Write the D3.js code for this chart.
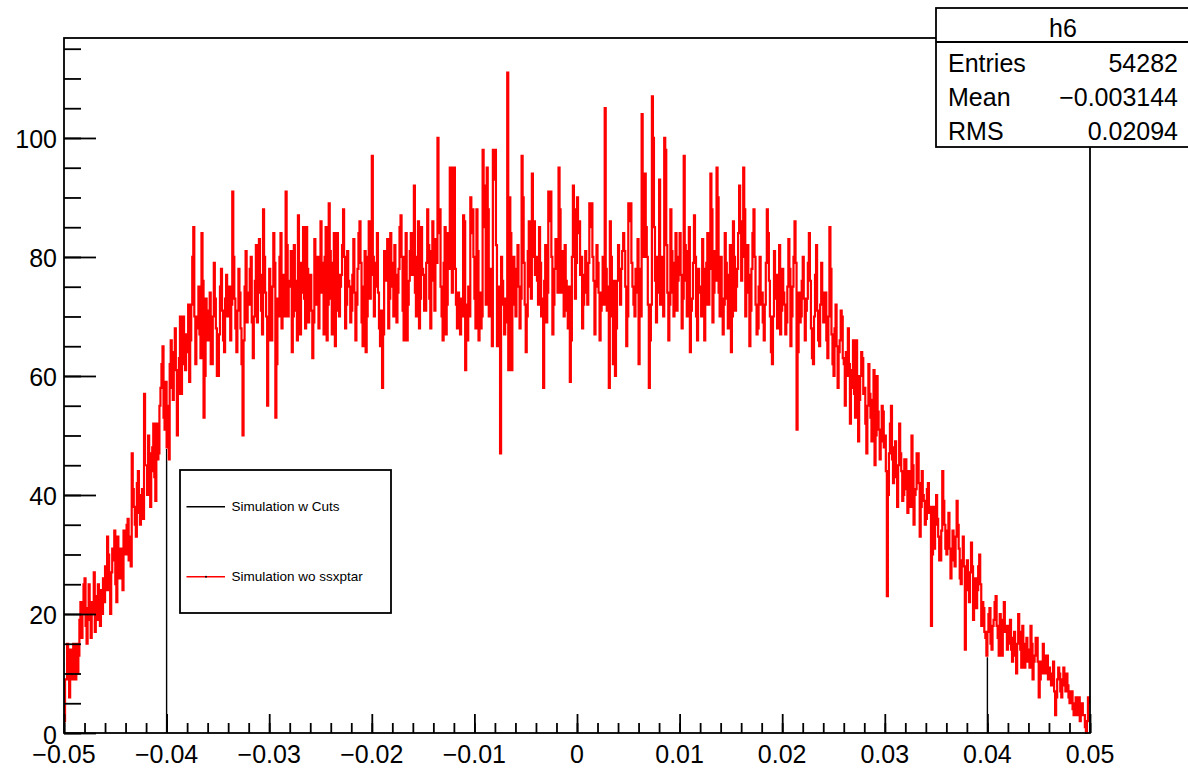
<!DOCTYPE html>
<html>
<head>
<meta charset="utf-8">
<script src="https://cdn.jsdelivr.net/npm/d3@7"></script>
<style>
  html, body { margin: 0; padding: 0; background: #fff; }
  svg { display: block; font-family: "Liberation Sans", Arial, Helvetica, sans-serif; }
</style>
</head>
<body>
<svg id="chart" width="1188" height="768"></svg>
<script>
// Histogram axis definition
const xRange = [-0.05, 0.05];
const yRange = [0, 116.8];
const cutRange = [-0.04, 0.04];

const xTickValues = [-0.05, -0.04, -0.03, -0.02, -0.01, 0, 0.01, 0.02, 0.03, 0.04, 0.05];
const xTickLabels = ["\u22120.05", "\u22120.04", "\u22120.03", "\u22120.02", "\u22120.01", "0", "0.01", "0.02", "0.03", "0.04", "0.05"];
const yTickValues = [0, 20, 40, 60, 80, 100];
const yTickLabels = ["0", "20", "40", "60", "80", "100"];

// Bin contents, "Simulation wo ssxptar" (1000 bins, 20 per line = 0.002 each)
const counts = [
  2, 9, 9, 15, 13, 6, 14, 11, 9, 15, 12, 9, 15, 10, 13, 19, 22, 16, 20, 25,
  26, 18, 15, 21, 25, 19, 16, 22, 20, 27, 17, 23, 19, 25, 21, 18, 24, 20, 26, 22,
  28, 24, 33, 30, 24, 20, 27, 31, 29, 34, 25, 22, 33, 28, 26, 31, 29, 24, 34, 30,
  30, 35, 36, 29, 33, 28, 47, 41, 38, 35, 33, 42, 44, 37, 35, 40, 41, 36, 57, 45,
  45, 40, 50, 47, 38, 44, 48, 52, 43, 39, 52, 46, 47, 55, 58, 62, 65, 53, 51, 59,
  48, 55, 46, 62, 66, 58, 56, 64, 68, 61, 50, 57, 63, 70, 57, 62, 70, 65, 61, 67,
  64, 72, 59, 66, 72, 80, 85, 70, 62, 68, 70, 75, 67, 63, 84, 76, 53, 60, 73, 68,
  66, 71, 74, 62, 62, 70, 79, 73, 68, 60, 60, 67, 75, 78, 71, 66, 64, 73, 77, 70,
  70, 75, 66, 72, 91, 80, 73, 68, 64, 71, 78, 74, 68, 62, 50, 66, 75, 81, 69, 74,
  72, 78, 80, 69, 63, 70, 76, 82, 69, 74, 83, 77, 71, 67, 88, 80, 74, 70, 55, 66,
  78, 72, 66, 75, 84, 79, 53, 62, 73, 70, 80, 84, 68, 75, 77, 70, 91, 82, 70, 76,
  75, 81, 64, 70, 82, 76, 71, 66, 87, 79, 67, 74, 79, 85, 73, 68, 85, 78, 69, 74,
  77, 71, 63, 69, 83, 78, 72, 80, 68, 74, 86, 79, 74, 67, 80, 85, 66, 72, 89, 81,
  73, 67, 79, 84, 65, 71, 84, 77, 70, 75, 77, 82, 88, 80, 68, 72, 81, 76, 75, 69,
  71, 77, 83, 74, 66, 72, 78, 84, 86, 79, 69, 65, 75, 81, 64, 70, 80, 86, 73, 77,
  97, 80, 70, 75, 79, 84, 74, 68, 65, 71, 58, 67, 81, 77, 76, 83, 68, 73, 84, 79,
  75, 70, 82, 77, 69, 74, 78, 85, 87, 80, 71, 66, 80, 84, 66, 72, 76, 81, 84, 77,
  78, 92, 74, 70, 80, 86, 68, 73, 85, 78, 77, 71, 71, 79, 88, 82, 73, 68, 81, 86,
  76, 71, 83, 79, 100, 84, 88, 75, 70, 66, 79, 85, 67, 72, 84, 78, 95, 80, 74, 95,
  95, 78, 72, 68, 74, 70, 67, 73, 70, 87, 86, 61, 72, 66, 75, 70, 90, 84, 88, 80,
  73, 68, 88, 81, 66, 74, 68, 70, 98, 92, 85, 72, 95, 88, 70, 74, 78, 65, 98, 93,
  98, 82, 65, 75, 70, 47, 80, 76, 72, 67, 73, 69, 111, 61, 90, 84, 61, 76, 80, 72,
  70, 78, 82, 75, 68, 73, 97, 90, 79, 72, 64, 70, 81, 86, 75, 73, 94, 80, 86, 77,
  80, 76, 72, 85, 79, 70, 73, 58, 76, 82, 69, 74, 91, 86, 91, 80, 67, 72, 78, 83,
  80, 74, 95, 88, 74, 81, 76, 70, 82, 76, 71, 68, 75, 59, 66, 80, 92, 88, 73, 79,
  90, 84, 86, 77, 80, 68, 72, 77, 81, 74, 72, 79, 89, 85, 89, 80, 76, 67, 75, 82,
  79, 74, 66, 71, 74, 80, 72, 105, 78, 71, 75, 58, 86, 80, 70, 62, 76, 60, 68, 76,
  82, 76, 72, 78, 81, 84, 81, 75, 65, 70, 89, 86, 89, 79, 75, 72, 70, 78, 74, 83,
  62, 78, 70, 104, 88, 80, 94, 85, 80, 72, 58, 66, 72, 107, 100, 85, 76, 69, 80, 74,
  93, 72, 77, 80, 70, 100, 98, 82, 74, 66, 72, 88, 81, 74, 70, 79, 84, 71, 76, 80,
  84, 77, 68, 73, 97, 82, 76, 70, 81, 85, 64, 71, 73, 79, 87, 80, 70, 66, 78, 74,
  75, 70, 83, 78, 66, 72, 79, 84, 72, 78, 94, 88, 69, 74, 81, 76, 95, 90, 74, 70,
  80, 73, 67, 72, 84, 79, 73, 68, 77, 82, 64, 70, 86, 80, 71, 75, 78, 84, 92, 86,
  76, 80, 95, 88, 70, 74, 82, 77, 65, 71, 78, 84, 88, 80, 72, 67, 68, 75, 80, 72,
  74, 69, 66, 72, 79, 88, 84, 76, 70, 64, 62, 70, 81, 77, 73, 68, 77, 82, 67, 71,
  78, 74, 72, 67, 69, 75, 83, 78, 65, 70, 75, 80, 86, 79, 51, 64, 74, 69, 70, 76,
  80, 73, 66, 71, 73, 79, 84, 76, 68, 63, 62, 70, 77, 82, 71, 66, 65, 72, 79, 74,
  69, 73, 74, 66, 63, 70, 85, 78, 67, 62, 60, 68, 72, 65, 58, 64, 66, 71, 70, 63,
  62, 55, 64, 60, 68, 62, 52, 58, 61, 66, 57, 53, 66, 60, 49, 56, 60, 64, 63, 57,
  58, 52, 47, 55, 62, 57, 53, 49, 56, 61, 45, 50, 60, 54, 51, 46, 49, 55, 54, 48,
  50, 44, 23, 40, 47, 52, 55, 46, 42, 48, 49, 43, 38, 45, 52, 47, 44, 39, 40, 46,
  46, 41, 37, 44, 43, 38, 50, 45, 35, 40, 41, 47, 47, 42, 33, 38, 44, 40, 39, 35,
  36, 41, 42, 37, 38, 18, 30, 38, 31, 35, 40, 36, 33, 29, 29, 34, 44, 39, 35, 31,
  30, 34, 37, 31, 26, 30, 34, 29, 28, 33, 39, 35, 31, 26, 25, 29, 33, 28, 14, 24,
  29, 25, 22, 27, 32, 28, 19, 23, 26, 21, 24, 28, 30, 25, 18, 22, 21, 17, 16, 13,
  17, 20, 21, 15, 14, 18, 19, 22, 23, 18, 16, 13, 20, 17, 13, 19, 22, 17, 18, 14,
  15, 18, 19, 14, 12, 16, 17, 13, 10, 15, 20, 17, 14, 11, 18, 15, 11, 14, 16, 12,
  14, 11, 18, 15, 9, 12, 13, 16, 16, 12, 6, 9, 12, 10, 15, 12, 10, 13, 13, 9,
  11, 9, 8, 10, 12, 7, 3, 6, 9, 11, 10, 7, 6, 9, 11, 8, 7, 10, 8, 6,
  5, 7, 7, 4, 3, 5, 6, 3, 4, 6, 2, 4, 5, 3, 3, 1, 0, 2, 6, 5
];

const statsTitle = "h6";
const statsNames = ["Entries", "Mean", "RMS"];
const statsValues = ["54282", "\u22120.003144", "0.02094"];

const legendLabels = ["Simulation w Cuts", "Simulation wo ssxptar"];
const seriesColors = ["#000000", "#ff0000"];

// ---------------------------------------------------------------
const svg = d3.select("#chart");
const frame = { left: 64, right: 1090, top: 38, bottom: 733 };

const x = d3.scaleLinear().domain(xRange).range([frame.left, frame.right]);
const y = d3.scaleLinear().domain(yRange).range([frame.bottom, frame.top]);

const nBins = counts.length;
const binWidth = (xRange[1] - xRange[0]) / nBins;
const edge = i => xRange[0] + i * binWidth;

// step outline of a histogram over bins [i0, i1)
function stepPoints(i0, i1, closeToZero) {
  const pts = [];
  if (closeToZero) pts.push([edge(i0), 0]);
  for (let i = i0; i < i1; i++) {
    pts.push([edge(i), counts[i]]);
    pts.push([edge(i + 1), counts[i]]);
  }
  if (closeToZero) pts.push([edge(i1), 0]);
  return pts;
}
const line = d3.line().x(d => x(d[0])).y(d => y(d[1]));
const fullPath = line(stepPoints(0, nBins, false));

// Histogram with cuts: the bins inside the cut window
const iCutLo = Math.round((cutRange[0] - xRange[0]) / binWidth);
const iCutHi = Math.round((cutRange[1] - xRange[0]) / binWidth);
svg.append("path")
  .attr("d", line(stepPoints(iCutLo, iCutHi, true)))
  .attr("fill", "none").attr("stroke", seriesColors[0]).attr("stroke-width", 1.4);

// Full histogram, drawn over the cut one
svg.append("path").attr("d", fullPath)
  .attr("fill", "none").attr("stroke", "#fff").attr("stroke-width", 3);
svg.append("path").attr("d", fullPath)
  .attr("fill", "none").attr("stroke", seriesColors[1]).attr("stroke-width", 2.2);

// Frame
svg.append("rect")
  .attr("x", frame.left).attr("y", frame.top)
  .attr("width", frame.right - frame.left).attr("height", frame.bottom - frame.top)
  .attr("fill", "none").attr("stroke", "#000").attr("stroke-width", 1.8);

// Axis ticks (drawn inward)
const xMinor = d3.range(0, 51).map(i => xRange[0] + i * 0.002);
const yMinor = d3.range(0, 24).map(i => i * 5);

function styleTicks(g) {
  g.select(".domain").remove();
  g.selectAll(".tick line").attr("stroke", "#000").attr("stroke-width", 1.8);
  g.selectAll(".tick text").remove();
}
svg.append("g").attr("transform", `translate(0,${frame.bottom})`)
  .call(d3.axisBottom(x).tickValues(xMinor).tickSizeInner(-10).tickSizeOuter(0).tickFormat(""))
  .call(styleTicks);
svg.append("g").attr("transform", `translate(0,${frame.bottom})`)
  .call(d3.axisBottom(x).tickValues(xTickValues).tickSizeInner(-19).tickSizeOuter(0).tickFormat(""))
  .call(styleTicks);
svg.append("g").attr("transform", `translate(${frame.left},0)`)
  .call(d3.axisLeft(y).tickValues(yMinor).tickSizeInner(-17).tickSizeOuter(0).tickFormat(""))
  .call(styleTicks);
svg.append("g").attr("transform", `translate(${frame.left},0)`)
  .call(d3.axisLeft(y).tickValues(yTickValues).tickSizeInner(-32).tickSizeOuter(0).tickFormat(""))
  .call(styleTicks);

// Tick labels
svg.append("g").selectAll("text").data(xTickValues).join("text")
  .attr("x", d => x(d)).attr("y", 763)
  .attr("text-anchor", "middle").attr("font-size", 25).attr("fill", "#000")
  .text((d, i) => xTickLabels[i]);
svg.append("g").selectAll("text").data(yTickValues).join("text")
  .attr("x", 57).attr("y", d => y(d) + 10.5)
  .attr("text-anchor", "end").attr("font-size", 25).attr("fill", "#000")
  .text((d, i) => yTickLabels[i]);

// Legend
const leg = svg.append("g");
leg.append("rect").attr("x", 180).attr("y", 470).attr("width", 211).attr("height", 143)
  .attr("fill", "#fff").attr("stroke", "#000").attr("stroke-width", 1.8);
const legRows = [506.7, 576.7];
legendLabels.forEach((lab, i) => {
  leg.append("line").attr("x1", 186.5).attr("x2", 225).attr("y1", legRows[i]).attr("y2", legRows[i])
    .attr("stroke", seriesColors[i]).attr("stroke-width", 1.6);
  leg.append("text").attr("x", 231.5).attr("y", legRows[i] + 4.3)
    .attr("font-size", 13.5).attr("fill", "#000").text(lab);
});
leg.append("circle").attr("cx", 206).attr("cy", legRows[1]).attr("r", 1).attr("fill", "#000");

// Statistics box
const st = svg.append("g");
st.append("rect").attr("x", 936).attr("y", 8).attr("width", 262).attr("height", 139)
  .attr("fill", "#fff").attr("stroke", "#000").attr("stroke-width", 1.8);
st.append("line").attr("x1", 936).attr("x2", 1198).attr("y1", 42).attr("y2", 42)
  .attr("stroke", "#000").attr("stroke-width", 1.8);
st.append("text").attr("x", 1063).attr("y", 37).attr("text-anchor", "middle")
  .attr("font-size", 25).text(statsTitle);
const statRows = [71.5, 106, 140];
statsNames.forEach((n, i) => {
  st.append("text").attr("x", 948).attr("y", statRows[i]).attr("font-size", 25).text(n);
  st.append("text").attr("x", 1178).attr("y", statRows[i]).attr("text-anchor", "end")
    .attr("font-size", 25).text(statsValues[i]);
});
</script>
</body>
</html>
